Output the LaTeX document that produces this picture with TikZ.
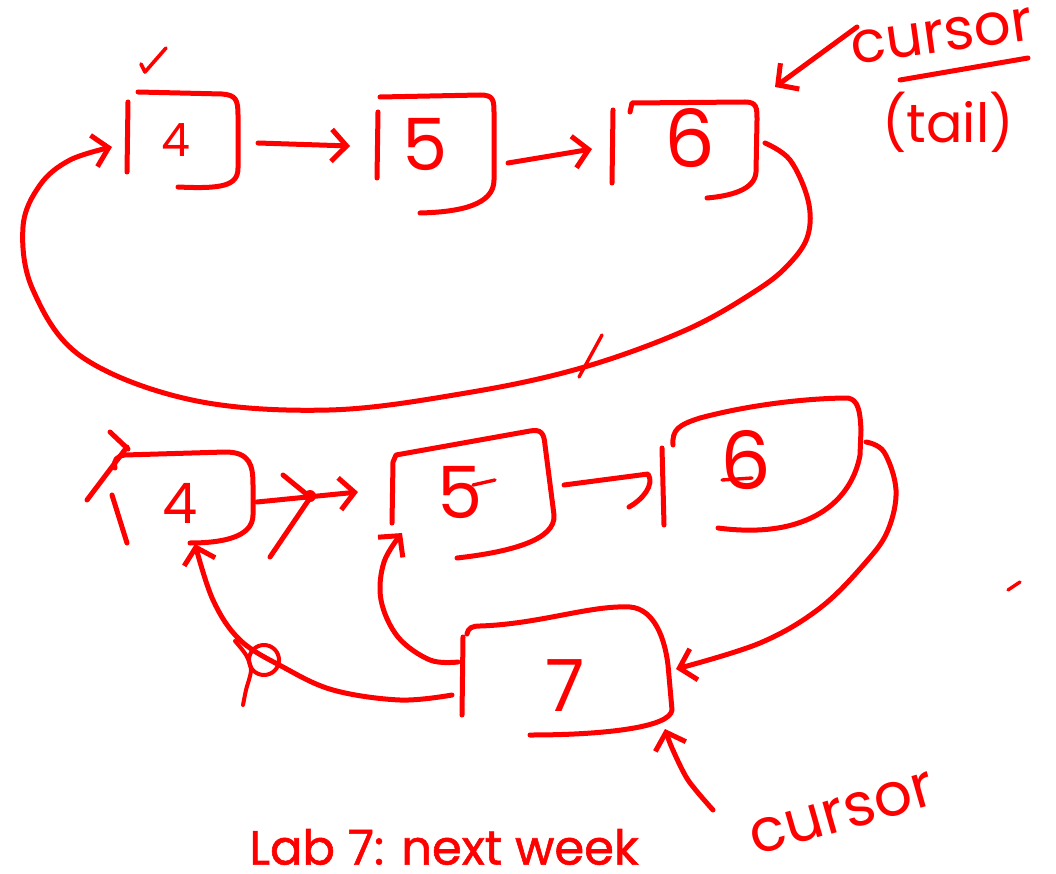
\documentclass[tikz,border=0pt]{standalone}
\usepackage{fontspec}
\setmainfont{Poppins}
\newfontfamily\notefont{Poppins}[FakeBold=1.2]
\usetikzlibrary{arrows.meta}
\definecolor{ink}{RGB}{255,0,0}
\newcommand{\fsz}[1]{\fontsize{#1}{#1}\selectfont}
\begin{document}
\begin{tikzpicture}[x=1pt,y=-1pt,
  pen/.style={draw=ink,line width=5pt,line cap=round,line join=round},
  arr/.style={pen,-{Straight Barb[length=15pt,width=32pt]}},
  digit/.style={text=ink,inner sep=0pt},
  label/.style={text=ink,inner sep=0pt}]
\fill[white] (0,0) rectangle (1056,874);
\useasboundingbox (0,0) rectangle (1056,874);

% ---------- first list: 4 -> 5 -> 6, circular ----------
% box 4
\draw[pen] (128,102) -- (127,172);
\draw[pen] (138,92) -- (222,94) .. controls (236,95) and (238,100) .. (238,115)
  -- (238,168) .. controls (238,186) and (222,189) .. (178,187);
\node[digit,font=\fsz{46}] (a4) at (176,140) {4};
\draw[pen,line width=3.6pt] (141,64) -- (145,72) -- (166,48);
% box 5
\draw[pen] (378,112) -- (377,178);
\draw[pen] (380,97) -- (480,95) .. controls (494,95) and (494,100) .. (494,115)
  -- (494,180) .. controls (494,205) and (460,212) .. (420,213);
\node[digit,font=\fsz{72}] (a5) at (425,145) {5};
% box 6
\draw[pen] (613,110) -- (612,183);
\draw[pen] (630,112) -- (632,103) -- (745,102) .. controls (757,102) and (757,108) .. (757,120)
  -- (756,172) .. controls (755,190) and (730,196) .. (707,198);
\node[digit,font=\fsz{80}] (a6) at (690,138) {6};

\coordinate (a4out) at (258,143);
\coordinate (a5in) at (350,146);
\coordinate (a5out) at (508,163);
\coordinate (a6in) at (592,149);
\coordinate (a6out) at (765,143);
\coordinate (a4in) at (112,147);
\draw[arr] (a4out) -- (a5in);
\draw[arr] (a5out) -- (a6in);
\draw[arr] plot[smooth,tension=0.6] coordinates {(a6out) (790,160) (808,200) (808,235)
  (790,263) (757,290) (686,330) (581,368) (466,393) (329,410) (192,400) (82,357)
  (33,290) (23,227) (40,185) (70,160) (a4in)};
\draw[pen,line width=3.4pt] (602,335) -- (579,377);

% cursor (tail)
\coordinate (curA) at (857,27);
\coordinate (curAtip) at (775,87);
\draw[arr] (curA) -- (curAtip);
\node[label,font=\fsz{58},rotate=8] (curtxt) at (942,36) {cursor};
\draw[pen] (900,80) -- (1028,58);
\node[label,font=\fsz{54}] (tail) at (948,122) {(tail)};

% ---------- second list: 7 inserted after 6 ----------
% box 4
\draw[pen] (112,495) -- (127,543);
\draw[pen] (115,468) .. controls (113,460) and (117,456) .. (125,455) -- (225,452)
  .. controls (250,452) and (253,465) .. (253,485) -- (253,515)
  .. controls (253,538) and (220,543) .. (190,543);
\node[digit,font=\fsz{56}] (b4) at (180,503) {4};
\draw[pen] (87,500) -- (127,447);
\draw[pen] (110,432) -- (128,449);
% box 5
\draw[pen] (392,523) -- (393,462) -- (396,455) -- (530,431)
  .. controls (541,429) and (544,433) .. (545,445) -- (554,515)
  .. controls (556,540) and (510,552) .. (457,558);
\node[digit,font=\fsz{72}] (b5) at (460,493) {5};
\draw[pen,line width=3.4pt] (473,485) -- (495,480);
% box 6
\draw[pen] (662,448) -- (664,525);
\draw[pen] (673,445) .. controls (672,430) and (678,425) .. (700,418)
  .. controls (760,402) and (820,398) .. (848,398)
  .. controls (858,400) and (860,410) .. (861,430) -- (860,455)
  .. controls (852,500) and (810,540) .. (718,528);
\node[digit,font=\fsz{80}] (b6) at (746,460) {6};
\draw[pen,line width=3.4pt] (722,480) -- (752,478);
% box 7
\draw[pen] (463,637) -- (462,715);
\draw[pen] (467,634) .. controls (468,628) and (472,626) .. (480,626)
  .. controls (540,624) and (590,605) .. (630,607)
  .. controls (655,609) and (665,640) .. (668,665) -- (672,710)
  .. controls (670,728) and (600,735) .. (530,735);
\node[digit,font=\fsz{72}] (b7) at (565,686) {7};

% links of the second list
\coordinate (b4out) at (257,502);
\coordinate (b5in) at (358,492);
\draw[arr] (b4out) -- (b5in);
\draw[pen] (270,557) -- (312,495);
\draw[pen] (283,475) -- (310,497);
\fill[ink] (310,496) circle (6);

\coordinate (b5out) at (564,485);
\coordinate (b6in) at (648,474);
\draw[pen] (b5out) -- (b6in) .. controls (655,485) and (642,500) .. (629,507);

\coordinate (b6out) at (866,442);
\coordinate (b7in) at (676,669);
\draw[arr] plot[smooth,tension=0.6] coordinates {(b6out) (884,452) (896,490)
  (888,530) (866,562) (820,608) (760,643) (b7in)};

\coordinate (b7outA) at (458,662);
\coordinate (b5up) at (402,533);
\draw[arr] plot[smooth,tension=0.6] coordinates {(b7outA) (430,660) (398,637)
  (381,600) (384,562) (b5up)};

\coordinate (b7outB) at (452,695);
\coordinate (b4up) at (195,544);
\draw[arr] plot[smooth,tension=0.6] coordinates {(b7outB) (400,700) (333,690)
  (283,667) (240,640) (213,600) (b4up)};
\draw[pen,line width=4pt] (264,660) circle (15);
\draw[pen,line width=4pt] plot[smooth] coordinates {(235,641) (246,655) (251,670) (246,690) (243,705)};

% cursor pointing at the new node
\coordinate (curB) at (713,810);
\coordinate (curBtip) at (665,729);
\draw[arr] plot[smooth] coordinates {(curB) (688,780) (672,748) (curBtip)};
\node[label,font=\fsz{60},rotate=16] (curtxt2) at (842,814) {cursor};

\draw[pen,line width=3.4pt] (1008,590) -- (1020,582);

% note
\node[label,font=\notefont\fsz{48}] (lab) at (444,847) {Lab 7: next week};
\end{tikzpicture}
\end{document}
